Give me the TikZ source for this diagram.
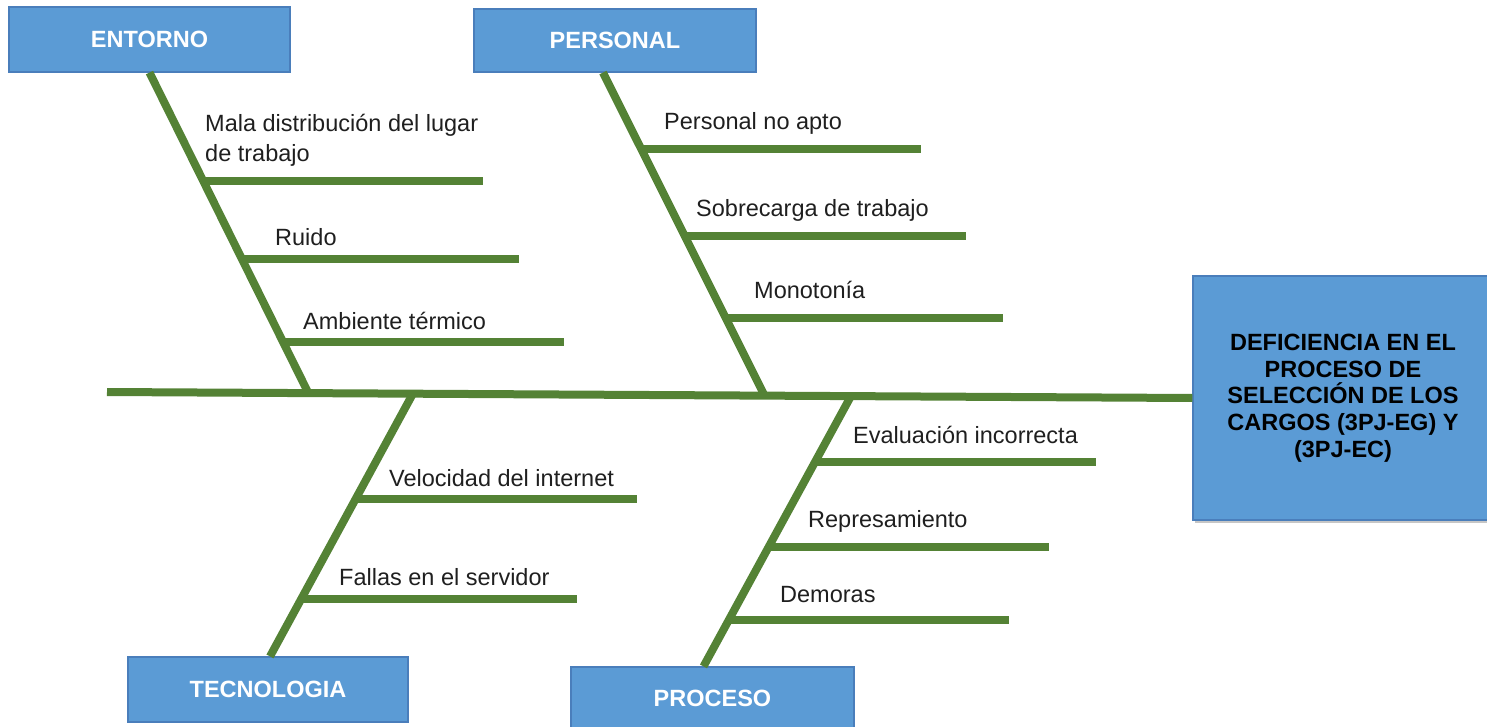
\documentclass[tikz,border=0pt]{standalone}
\usepackage{fontspec}
\setmainfont{Liberation Sans}
\usetikzlibrary{calc,shadows}
\definecolor{boxblue}{HTML}{5B9BD5}
\definecolor{boxedge}{HTML}{4A7EBB}
\definecolor{bonegreen}{HTML}{548235}
\definecolor{txt}{HTML}{1F1F1F}
\begin{document}
\begin{tikzpicture}[x=1pt,y=-1pt,
  catbox/.style={draw=boxedge, line width=1.2pt, fill=boxblue, text=white,
    font=\fontsize{23.5}{28}\selectfont\bfseries, inner sep=0pt},
  effbox/.style={draw=boxedge, line width=1.2pt, fill=boxblue, text=black,
    font=\fontsize{23.5}{26.7}\selectfont\bfseries, inner sep=0pt, align=center,
    drop shadow={shadow xshift=2pt, shadow yshift=-3pt, opacity=0.45}},
  bone/.style={draw=bonegreen, line width=8pt},
  cause/.style={text=txt, font=\fontsize{23.5}{30}\selectfont, anchor=base west, inner sep=0pt},
]
\useasboundingbox (0,0) rectangle (1487,727);
\begin{scope}
\clip (0,0) rectangle (1487,727);

% category boxes
\node[catbox, minimum width=281pt, minimum height=65pt] (entorno) at (149.5,39.5) {ENTORNO};
\node[catbox, minimum width=282pt, minimum height=63pt] (personal) at (615,40.5) {PERSONAL};
\node[catbox, minimum width=280pt, minimum height=65pt] (tecnologia) at (268,689.5) {TECNOLOGIA};
\node[catbox, minimum width=283pt, minimum height=62pt] (proceso) at (712.5,698) {PROCESO};

% effect box
\node[effbox, minimum width=300pt, minimum height=244pt] (effect) at (1343,398)
  {DEFICIENCIA EN EL\\PROCESO DE\\SELECCIÓN DE LOS\\CARGOS (3PJ-EG) Y\\(3PJ-EC)};

% spine
\coordinate (spL) at (107,392);
\draw[bone] (spL) -- (effect.west);

% bone junctions on spine
\coordinate (j1) at (308,392.3);
\coordinate (j2) at (764,394.5);
\coordinate (j3) at (413,393.5);
\coordinate (j4) at (851,396);

% bone starts
\coordinate (b1) at (entorno.south);
\coordinate (b2) at ([xshift=-12pt]personal.south);
\coordinate (b3) at ([xshift=2pt]tecnologia.north);
\coordinate (b4) at ([xshift=-9pt]proceso.north);

\draw[bone] (b1) -- (j1);
\draw[bone] (b2) -- (j2);
\draw[bone] (b3) -- (j3);
\draw[bone] (b4) -- (j4);

% rib attach points
\coordinate (r11) at ($(b1)!0.3406!(j1)$);
\coordinate (r12) at ($(b1)!0.5844!(j1)$);
\coordinate (r13) at ($(b1)!0.8438!(j1)$);
\coordinate (r21) at ($(b2)!0.2360!(j2)$);
\coordinate (r22) at ($(b2)!0.5062!(j2)$);
\coordinate (r23) at ($(b2)!0.7609!(j2)$);
\coordinate (r31) at ($(b3)!0.5985!(j3)$);
\coordinate (r32) at ($(b3)!0.2197!(j3)$);
\coordinate (r41) at ($(b4)!0.7565!(j4)$);
\coordinate (r42) at ($(b4)!0.4428!(j4)$);
\coordinate (r43) at ($(b4)!0.1734!(j4)$);

% rib ends
\coordinate (e11) at (483,181);
\coordinate (e12) at (519,259);
\coordinate (e13) at (564,342);
\coordinate (e21) at (921,148);
\coordinate (e22) at (966,235);
\coordinate (e23) at (1003,317);
\coordinate (e31) at (637,499);
\coordinate (e32) at (577,599);
\coordinate (e41) at (1096,462);
\coordinate (e42) at (1049,547);
\coordinate (e43) at (1009,620);

\foreach \r in {11,12,13,21,22,23,31,32,41,42,43}
  \draw[bone] (r\r) -- (r\r -| e\r);

% cause labels
\node[cause] (t11) at (205,132) {\vtop{\hbox{Mala distribución del lugar}\hbox{de trabajo}}};
\node[cause] (t12) at (275,245) {Ruido};
\node[cause] (t13) at (303,329) {Ambiente térmico};
\node[cause] (t21) at (664,130) {Personal no apto};
\node[cause] (t22) at (696,217) {Sobrecarga de trabajo};
\node[cause] (t23) at (754,298) {Monotonía};
\node[cause] (t31) at (389,486) {Velocidad del internet};
\node[cause] (t32) at (339,585) {Fallas en el servidor};
\node[cause] (t41) at (853,443) {Evaluación incorrecta};
\node[cause] (t42) at (808,527) {Represamiento};
\node[cause] (t43) at (780,602) {Demoras};
\end{scope}
\end{tikzpicture}
\end{document}
